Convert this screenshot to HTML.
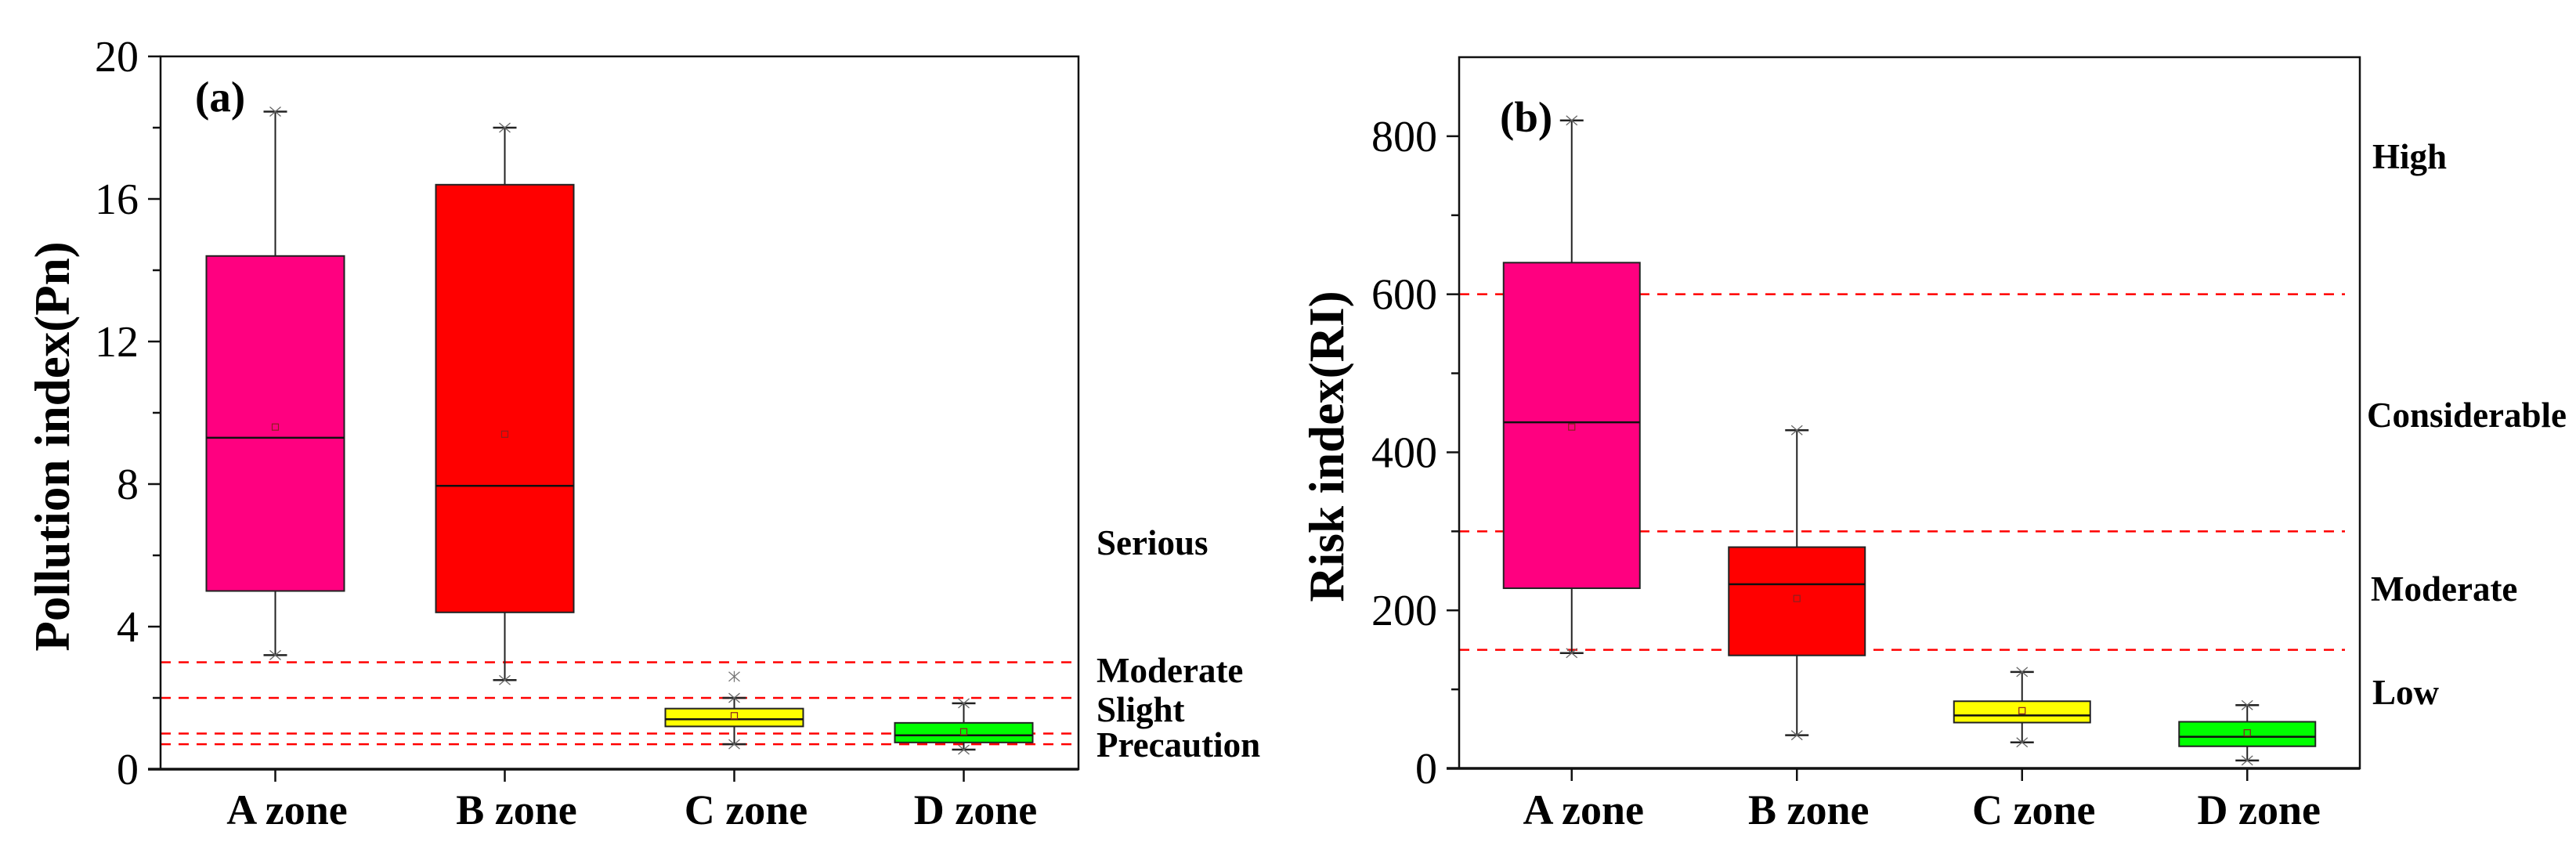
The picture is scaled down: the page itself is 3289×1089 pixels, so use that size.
<!DOCTYPE html>
<html><head><meta charset="utf-8"><style>
html,body{margin:0;padding:0;background:#fff;}
svg{display:block;font-family:"Liberation Serif",serif;}
</style></head><body>
<svg id="chart" width="3289" height="1089" viewBox="0 0 3289 1089" xmlns="http://www.w3.org/2000/svg">
<rect width="3289" height="1089" fill="#fff"/>
</svg>
<script>
// ---- data ----
const zones = ["A zone","B zone","C zone","D zone"];
const colors = ["#ff0080","#ff0000","#ffff00","#00ff00"];
// Panel a: Pollution index
const pnMax = [18.45, 18.0, 2.0, 1.85];
const pnQ3 = [14.4, 16.4, 1.7, 1.3];
const pnMed = [9.3, 7.95, 1.4, 0.95];
const pnMean = [9.6, 9.4, 1.5, 1.05];
const pnQ1 = [5.0, 4.4, 1.2, 0.75];
const pnMin = [3.2, 2.5, 0.7, 0.55];
const pnOutliers = [[], [], [2.6], []];
const pnTicks = [0, 4, 8, 12, 16, 20];
const pnMinor = [2, 6, 10, 14, 18];
const pnThresholds = [3, 2, 1, 0.7];
const pnLevels = ["Serious","Moderate","Slight","Precaution"];
// Panel b: Risk index
const riMax = [820, 428, 122, 80];
const riQ3 = [640, 280, 85, 59];
const riMed = [438, 233, 67, 40];
const riMean = [432, 215, 73, 45];
const riQ1 = [228, 143, 58, 28];
const riMin = [146, 42, 33, 10];
const riTicks = [0, 200, 400, 600, 800];
const riMinor = [100, 300, 500, 700];
const riThresholds = [600, 300, 150];
const riLevels = ["High","Considerable","Moderate","Low"];

const NS = "http://www.w3.org/2000/svg";
const svg = document.getElementById("chart");
function mk(tag, attrs, parent, text){
  const e = document.createElementNS(NS, tag);
  for (const k in attrs) e.setAttribute(k, attrs[k]);
  if (text !== undefined) e.textContent = text;
  (parent || svg).appendChild(e);
  return e;
}

function panel(cfg){
  const g = mk("g", {});
  
  
  const {x0,x1,y0,y1,ymax} = cfg;
  const sy = v => y0 - (v / ymax) * (y0 - y1);
  const sx = i => x0 + (i + 0.5) * (x1 - x0) / 4;
  // thresholds
  cfg.thr.forEach(v => {
    const l = mk("line", {x1:x0, x2:cfg.dashEnd, y1:sy(v), y2:sy(v), stroke:"#ff0000", "stroke-width":2.5, "stroke-dasharray":"13 10"}, g);
    
    
  });
  // boxes
  zones.forEach((z, i) => {
    const cx = sx(i), hw = cfg.hw;
    const bg = mk("g", {}, g);
    
    
    mk("line", {x1:cx, x2:cx, y1:sy(cfg.max[i]), y2:sy(cfg.q3[i]), stroke:"#222", "stroke-width":2}, bg);
    mk("line", {x1:cx, x2:cx, y1:sy(cfg.q1[i]), y2:sy(cfg.min[i]), stroke:"#222", "stroke-width":2}, bg);
    [cfg.max[i], cfg.min[i]].forEach(v => {
      mk("line", {x1:cx-15, x2:cx+15, y1:sy(v), y2:sy(v), stroke:"#222", "stroke-width":2.5}, bg);
      mk("path", {d:`M${cx-7} ${sy(v)-6}L${cx+7} ${sy(v)+6}M${cx-7} ${sy(v)+6}L${cx+7} ${sy(v)-6}`, stroke:"#666", "stroke-width":1.3}, bg);
    });
    mk("rect", {x:cx-hw, y:sy(cfg.q3[i]), width:2*hw, height:sy(cfg.q1[i]) - sy(cfg.q3[i]), fill:colors[i], stroke:"#222", "stroke-width":2}, bg);
    mk("line", {x1:cx-hw, x2:cx+hw, y1:sy(cfg.med[i]), y2:sy(cfg.med[i]), stroke:"#111", "stroke-width":2.5}, bg);
    mk("rect", {x:cx-4, y:sy(cfg.mean[i])-4, width:8, height:8, fill:"none", stroke:"#8a2020", "stroke-width":1.2}, bg);
    (cfg.out ? cfg.out[i] : []).forEach(v => {
      mk("path", {d:`M${cx-7} ${sy(v)-6}L${cx+7} ${sy(v)+6}M${cx-7} ${sy(v)+6}L${cx+7} ${sy(v)-6}M${cx} ${sy(v)-7}L${cx} ${sy(v)+7}`, stroke:"#777", "stroke-width":1.3}, bg);
    });
    // x tick and label
    mk("line", {x1:cx, x2:cx, y1:y0, y2:y0+16, stroke:"#111", "stroke-width":2.5}, g);
    const t = mk("text", {x:cx+15, y:1052, "text-anchor":"middle", "font-size":54, "font-weight":"bold"}, g, z);
    
    
  });
  // frame
  const fr = mk("rect", {x:x0, y:y1, width:x1-x0, height:y0-y1, fill:"none", stroke:"#111", "stroke-width":2.5}, g);
  
  
  mk("line", {x1:x0-16, x2:x1, y1:y0, y2:y0, stroke:"#111", "stroke-width":3.5}, g);
  cfg.ticks.forEach(v => {
    mk("line", {x1:x0-16, x2:x0, y1:sy(v), y2:sy(v), stroke:"#111", "stroke-width":2.5}, g);
    const t = mk("text", {x:x0-28, y:sy(v)+19, "text-anchor":"end", "font-size":56}, g, String(v));
    
    
  });
  cfg.minor.forEach(v => {
    mk("line", {x1:x0-10, x2:x0, y1:sy(v), y2:sy(v), stroke:"#111", "stroke-width":2.5}, g);
  });
  const yt = mk("text", {x:cfg.titleX, y:570, "text-anchor":"middle", "font-size":63, "font-weight":"bold", transform:`rotate(-90 ${cfg.titleX} 570)`, dy:22}, g, cfg.title);
  
  
  const pl = mk("text", {x:cfg.labX, y:cfg.labY, "font-size":55, "font-weight":"bold"}, g, cfg.lab);
  
  
  cfg.levels.forEach((s, k) => {
    const t = mk("text", {x:cfg.levX[k], y:cfg.levY[k], "font-size":45, "font-weight":"bold"}, g, s);
    
    
  });
}

panel({name:"panel-a-pollution-index", x0:205, x1:1377, y0:982, y1:72, ymax:20, hw:88, dashEnd:1377,
  max:pnMax, q3:pnQ3, med:pnMed, mean:pnMean, q1:pnQ1, min:pnMin, out:pnOutliers,
  ticks:pnTicks, minor:pnMinor, thr:pnThresholds, title:"Pollution index(Pn)", titleX:66,
  lab:"(a)", labX:249, labY:142, levels:pnLevels, levX:[1400,1400,1400,1400], levY:[708,871,921,966]});
panel({name:"panel-b-risk-index", x0:1863, x1:3013, y0:981, y1:73, ymax:900, hw:87, dashEnd:2994,
  max:riMax, q3:riQ3, med:riMed, mean:riMean, q1:riQ1, min:riMin, out:null,
  ticks:riTicks, minor:riMinor, thr:riThresholds, title:"Risk index(RI)", titleX:1693,
  lab:"(b)", labX:1915, labY:168, levels:riLevels, levX:[3029,3022,3027,3029], levY:[215,545,767,899]});
</script>
</body></html>
